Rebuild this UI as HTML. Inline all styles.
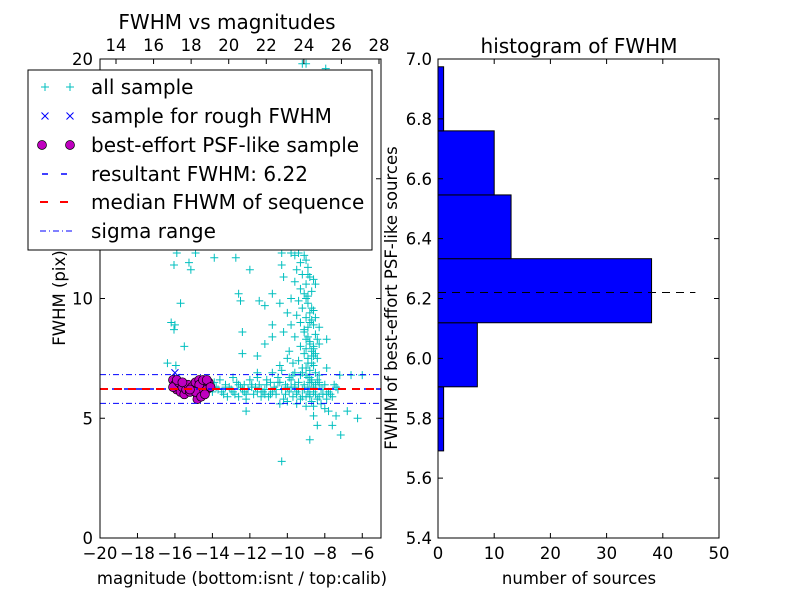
<!DOCTYPE html>
<html><head><meta charset="utf-8"><style>
body{margin:0;background:#fff}
svg{display:block;font-family:"DejaVu Sans","Liberation Sans",sans-serif}
</style></head><body>
<svg id="c" width="800" height="600" xmlns="http://www.w3.org/2000/svg"></svg>
<script>
const allMag=[-15.9,-16.05,-15.25,-14.9,-15.15,-13.9,-12.0,-15.7,-16.2,-16.05,-16.0,-15.5,-12.4,-12.4,-11.6,-12.6,-12.5,-16.4,-15.95,-12.2,-10.3,-8.8,-7.15,-6.8,-6.25,-7.6,-8.4,-8.6,-7.4,-7.9,-8.3,-7.2,-7.9,-11.2,-11.5,-10.8,-10.8,-10.8,-11.2,-10.4,-10.3,-10.3,-10.2,-10.8,-11.6,-9.2,-9.0,-7.95,-12.75,
-9.1,-9.0,-9.3,-8.9,-9.5,-9.2,-8.8,-9.6,-9.0,-9.3,-8.7,-9.1,-9.8,-9.4,-8.9,-9.2,-8.6,-10.0,-9.5,-9.0,-8.7,-9.3,-9.8,-8.9,-9.1,-8.5,-9.6,-9.0,-8.8,-9.3,-8.6,-9.9,-9.1,-8.7,-8.4,-9.4,-8.9,-8.6,-9.2,-8.8,-8.5,-9.6,-8.3,-9.0,-8.7,-8.9,-8.6,-8.8,-9.0,-8.5,-10.2,-10.0,-10.4,-9.7,-9.8,-9.4,-9.6,
-8.9,-8.7,-9.0,-8.8,-8.6,-9.1,-8.8,-8.5,-8.7,-8.9,-8.4,-9.0,-8.6,-8.8,-8.7,-9.2,-8.5,-8.9,-8.6,-8.3,
-13.8,-13.5,-13.3,-13.0,-12.8,-12.7,-12.5,-12.3,-12.1,-12.0,-11.8,-11.7,-11.5,-11.3,-11.2,-11.0,-10.9,-10.7,-10.6,-10.5,-10.3,-10.2,-10.1,-9.9,-9.8,-9.7,-9.6,-9.5,-9.4,-9.3,-9.2,-9.1,-9.0,-8.9,-8.8,-8.7,-8.6,-8.5,-8.4,-8.3,-8.2,-8.0,-7.8,-7.6,-7.3,-13.6,-12.9,-12.2,-11.6,-11.1,-10.4,-10.0,-9.5,-9.0,-8.6,-8.2,-8.0,-7.8,-9.3,-9.7,-10.3,-8.9,-13.2,-12.6,-11.9,-11.4,-10.8,-10.0,-9.9,-9.4,-8.8,-8.7,-8.5,-8.3,-8.1,-7.9,-7.5,-14.2,-13.9,-6.6,-6.0,
-13.7,-13.4,-13.1,-12.9,-12.6,-12.4,-12.2,-11.9,-11.6,-11.4,-11.1,-10.9,-10.6,-10.4,-10.1,-9.8,-9.5,-9.2,-8.9,-8.6,-8.3,-8.1,-7.7,-7.4,-14.0,-13.3,-12.3,-11.2,-10.5,-9.6,-9.1,-8.8,-8.4,-7.9];
const allFwhm=[11.9,11.4,11.5,11.9,11.2,11.7,11.2,9.8,9.0,8.7,8.9,8.0,8.6,7.7,7.6,10.2,9.9,7.3,7.2,5.3,3.2,4.1,4.3,5.3,5.0,4.7,4.7,5.1,5.1,8.3,8.8,6.8,7.1,9.7,9.9,10.2,8.9,8.4,8.1,9.8,11.4,11.9,10.9,6.9,6.9,19.8,19.8,19.6,11.7,
11.8,11.6,11.5,11.3,11.2,11.0,10.9,10.7,10.6,10.4,10.3,10.2,10.0,9.9,9.8,9.6,9.5,9.4,9.3,9.2,9.1,9.0,8.9,8.8,8.6,8.5,8.4,8.3,8.1,8.0,7.9,7.8,7.7,7.6,7.5,7.4,7.3,7.2,7.1,7.0,6.9,6.9,6.8,6.8,7.8,8.4,8.9,9.4,10.0,10.6,8.6,7.5,7.2,7.3,11.9,11.9,11.8,
7.5,7.3,7.9,8.2,8.0,8.7,9.0,9.2,9.6,10.1,8.3,7.1,7.6,6.7,6.5,6.9,7.7,11.0,10.8,8.1,
6.3,6.1,6.4,6.2,6.0,6.5,6.3,6.1,6.2,6.6,6.0,6.3,6.4,6.1,6.2,5.9,6.5,6.3,6.0,6.7,6.2,5.8,6.4,6.1,6.6,5.9,6.3,6.0,6.5,5.8,6.2,6.4,5.9,6.1,6.5,5.7,6.3,6.0,6.6,5.9,6.2,6.4,6.1,5.9,6.2,6.6,6.7,5.8,6.7,6.6,5.6,5.7,5.6,5.5,5.5,5.6,5.4,5.3,6.8,6.8,7.0,6.7,5.9,5.9,6.4,5.9,6.1,6.3,6.7,6.2,5.9,6.6,6.4,6.4,6.0,5.8,6.4,6.3,6.5,6.8,6.8,
6.2,6.0,6.3,6.1,6.4,6.2,6.0,6.3,6.1,6.2,6.4,6.0,6.2,6.5,6.0,6.3,6.1,5.9,6.3,6.1,6.5,6.2,6.0,6.3,6.1,6.3,6.4,6.0,6.5,6.4,6.2,6.0,5.8,6.0];
const psfMag=[-16.1,-16.0,-15.9,-16.1,-15.8,-15.7,-15.6,-15.5,-15.4,-15.3,-15.2,-15.1,-15.0,-14.9,-14.8,-14.7,-14.6,-14.5,-14.4,-14.3,-14.2,-14.8,-14.7,-14.5,-15.9,-15.6,-14.9,-14.6,-14.3,-15.2,-14.1,-14.4];
const psfFwhm=[6.6,6.4,6.2,6.3,6.5,6.1,6.3,6.0,6.2,6.4,6.1,6.3,6.2,6.5,6.0,6.6,6.3,6.1,6.4,6.2,6.5,5.8,6.4,6.6,6.6,6.5,6.1,5.9,6.6,6.2,6.3,6.0];
const roughMag=[-16.0,-15.9];
const roughFwhm=[6.9,6.7];
const resultFwhm=6.22, medianFwhm=6.22, sigLo=5.62, sigHi=6.82;
const histEdges=[5.691,5.905,6.119,6.333,6.546,6.760,6.974];
const histCounts=[1,7,38,13,10,1];
const bottomTicks=[-20,-18,-16,-14,-12,-10,-8,-6];
const topTicks=[14,16,18,20,22,24,26,28];
const leftTicks=[0,5,10,15,20];
const histXTicks=[0,10,20,30,40,50];
const histYTicks=[5.4,5.6,5.8,6.0,6.2,6.4,6.6,6.8,7.0];

const svg=document.getElementById('c');const NS='http://www.w3.org/2000/svg';
function mk(t,a,p,txt){const e=document.createElementNS(NS,t);for(const k in a)e.setAttribute(k,a[k]);if(txt!==undefined)e.textContent=txt;(p||svg).appendChild(e);return e;}
const L={x0:100,x1:381,y0:538,y1:59};
const xs=m=>L.x0+(m+20)*(L.x1-L.x0)/15;
const xt=v=>116+(v-14)*(379-116)/14;
const ys=f=>L.y0-f*(L.y0-L.y1)/20;
const R={x0:438,x1:719,y0:538,y1:59};
const hx=c=>R.x0+c*(R.x1-R.x0)/50;
const hy=v=>R.y0-(v-5.4)*(R.y0-R.y1)/1.6;
const TF=16.5;

const defs=mk('defs',{});const cp=mk('clipPath',{id:'clipL'},defs);mk('rect',{x:L.x0,y:L.y1,width:L.x1-L.x0,height:L.y0-L.y1},cp);
const gL=mk('g',{'clip-path':'url(#clipL)'});

for(let i=0;i<allMag.length;i++){const x=xs(allMag[i]),y=ys(allFwhm[i]);
 const p=mk('path',{d:`M${x-4},${y}H${x+4}M${x},${y-4}V${y+4}`,stroke:'#00bfbf','stroke-width':1},gL);
 }
for(let i=0;i<roughMag.length;i++){const x=xs(roughMag[i]),y=ys(roughFwhm[i]);
 const p=mk('path',{d:`M${x-3.5},${y-3.5}L${x+3.5},${y+3.5}M${x-3.5},${y+3.5}L${x+3.5},${y-3.5}`,stroke:'#0000ff','stroke-width':1},gL);
 }
for(let i=0;i<psfMag.length;i++){
 const c=mk('circle',{cx:xs(psfMag[i]),cy:ys(psfFwhm[i]),r:4.5,fill:'#bf00bf',stroke:'#000','stroke-width':0.7},gL);
 }
function hline(v,stroke,dash,name,w){const l=mk('line',{x1:L.x0,x2:L.x1,y1:ys(v),y2:ys(v),stroke,'stroke-dasharray':dash,'stroke-width':w||1},gL);
 }
hline(sigHi,'#0000ff','6 3 1 3','sigma-high-line');
hline(sigLo,'#0000ff','6 3 1 3','sigma-low-line');
hline(resultFwhm,'#0000ff','6 6','result-fwhm-line',1.5);
hline(medianFwhm,'#ff0000','8 6','median-fwhm-line',2);
const fr=mk('rect',{x:L.x0,y:L.y1,width:L.x1-L.x0,height:L.y0-L.y1,fill:'none',stroke:'#000'});

bottomTicks.forEach(v=>{const x=xs(v);mk('path',{d:`M${x},${L.y0}v-5`,stroke:'#000'});
 const t=mk('text',{x,y:559,'text-anchor':'middle','font-size':TF},null,'\u2212'+Math.abs(v));
 });
topTicks.forEach(v=>{const x=xt(v);mk('path',{d:`M${x},${L.y1}v5`,stroke:'#000'});
 const t=mk('text',{x,y:51,'text-anchor':'middle','font-size':TF},null,String(v));
 });
leftTicks.forEach(v=>{const y=ys(v);mk('path',{d:`M${L.x0},${y}h5M${L.x1},${y}h-5`,stroke:'#000'});
 const t=mk('text',{x:93,y:y+6,'text-anchor':'end','font-size':TF},null,String(v));
 });
mk('text',{x:65,y:298,'text-anchor':'middle','font-size':TF,transform:'rotate(-90 65 298)',},null,'FWHM (pix)');
mk('text',{x:242,y:584,'text-anchor':'middle','font-size':TF,},null,'magnitude (bottom:isnt / top:calib)');
mk('text',{x:227,y:29,'text-anchor':'middle','font-size':20,},null,'FWHM vs magnitudes');
const lg=mk('g',{});
mk('rect',{x:28,y:70,width:344,height:180,fill:'#fff',stroke:'#000'},lg);
const ly=[87,116,145,174,202,231];
const labels=['all sample','sample for rough FWHM','best-effort PSF-like sample','resultant FWHM: 6.22','median FHWM of sequence','sigma range'];
labels.forEach((s,i)=>{const y=ly[i];
 if(i===0)[45,70].forEach(x=>mk('path',{d:`M${x-4},${y}H${x+4}M${x},${y-4}V${y+4}`,stroke:'#00bfbf'},lg));
 if(i===1)[45,70].forEach(x=>mk('path',{d:`M${x-3.5},${y-3.5}L${x+3.5},${y+3.5}M${x-3.5},${y+3.5}L${x+3.5},${y-3.5}`,stroke:'#0000ff'},lg));
 if(i===2)[42,70].forEach(x=>mk('circle',{cx:x,cy:y,r:4.5,fill:'#bf00bf',stroke:'#000','stroke-width':0.7},lg));
 if(i===3)mk('line',{x1:40,x2:75,y1:y,y2:y,stroke:'#0000ff','stroke-width':1.5,'stroke-dasharray':'6 13','stroke-dashoffset':-2},lg);
 if(i===4)mk('line',{x1:40,x2:75,y1:y,y2:y,stroke:'#ff0000','stroke-width':2,'stroke-dasharray':'8 12'},lg);
 if(i===5)mk('line',{x1:40,x2:75,y1:y,y2:y,stroke:'#0000ff','stroke-dasharray':'6 3 1 3'},lg);
 const t=mk('text',{x:91,y:y+7,'font-size':20},lg,s);
 });
const gH=mk('g',{});
histCounts.forEach((c,i)=>{const yt=hy(histEdges[i+1]),yb=hy(histEdges[i]);
 const r=mk('rect',{x:R.x0,y:yt,width:hx(c)-R.x0,height:yb-yt,fill:'#0000ff',stroke:'#000','stroke-width':1},gH);
 });
mk('line',{x1:R.x0,x2:hx(45.8),y1:hy(resultFwhm),y2:hy(resultFwhm),stroke:'#000','stroke-dasharray':'8 6',});
mk('rect',{x:R.x0,y:R.y1,width:R.x1-R.x0,height:R.y0-R.y1,fill:'none',stroke:'#000',});
histXTicks.forEach(v=>{const x=hx(v);mk('path',{d:`M${x},${R.y0}v-5M${x},${R.y1}v5`,stroke:'#000'});
 const t=mk('text',{x,y:559,'text-anchor':'middle','font-size':TF},null,String(v));
 });
histYTicks.forEach(v=>{const y=hy(v);mk('path',{d:`M${R.x0},${y}h5M${R.x1},${y}h-5`,stroke:'#000'});
 const t=mk('text',{x:432,y:y+6,'text-anchor':'end','font-size':TF},null,v.toFixed(1));
 });
mk('text',{x:579,y:584,'text-anchor':'middle','font-size':TF,},null,'number of sources');
mk('text',{x:397,y:298,'text-anchor':'middle','font-size':TF,transform:'rotate(-90 397 298)',},null,'FWHM of best-effort PSF-like sources');
mk('text',{x:579,y:53,'text-anchor':'middle','font-size':20,},null,'histogram of FWHM');
</script>
</body></html>
